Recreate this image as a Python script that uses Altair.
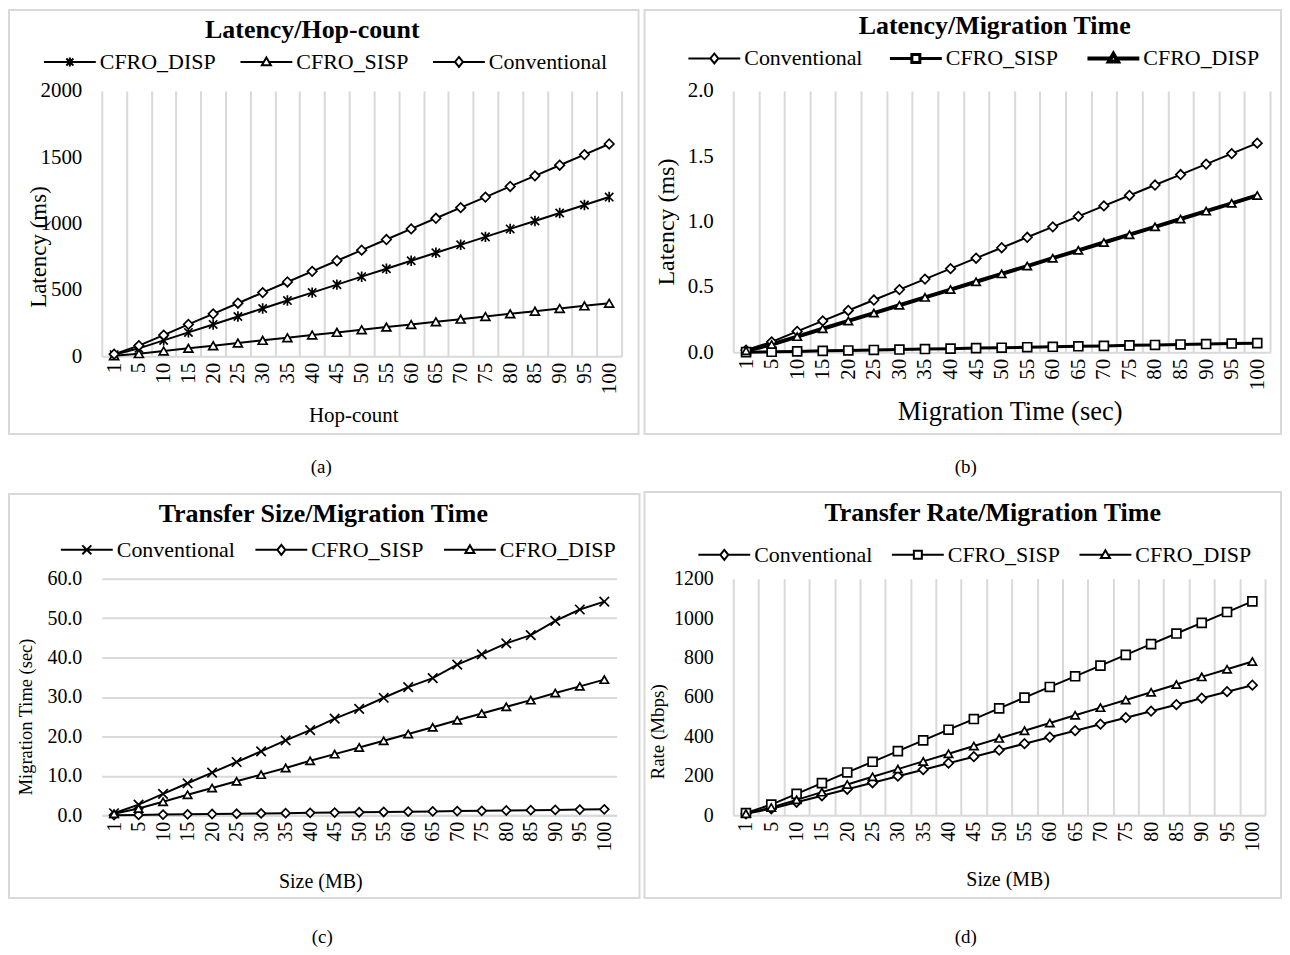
import altair as alt
import pandas as pd

cats = ["1", "5", "10", "15", "20", "25", "30", "35", "40", "45", "50",
        "55", "60", "65", "70", "75", "80", "85", "90", "95", "100"]

# (a) Latency / Hop-count
a_disp = [12, 60, 120, 180, 240, 300, 360, 420, 480, 540, 600, 660, 720, 780, 840, 900, 960, 1020, 1080, 1140, 1200]
a_sisp = [4, 20, 40, 60, 80, 100, 120, 140, 160, 180, 200, 220, 240, 260, 280, 300, 320, 340, 360, 380, 400]
a_conv = [16, 80, 160, 240, 320, 400, 480, 560, 640, 720, 800, 880, 960, 1040, 1120, 1200, 1280, 1360, 1440, 1520, 1600]

# (b) Latency / Migration Time
b_conv = [0.016, 0.08, 0.16, 0.24, 0.32, 0.40, 0.48, 0.56, 0.64, 0.72, 0.80, 0.88, 0.96, 1.04, 1.12, 1.20, 1.28, 1.36, 1.44, 1.52, 1.60]
b_sisp = [0.001, 0.004, 0.007, 0.011, 0.014, 0.018, 0.021, 0.025, 0.028, 0.032, 0.035, 0.039, 0.042, 0.046, 0.049, 0.053, 0.056, 0.060, 0.063, 0.067, 0.070]
b_disp = [0.012, 0.06, 0.12, 0.18, 0.24, 0.30, 0.36, 0.42, 0.48, 0.54, 0.60, 0.66, 0.72, 0.78, 0.84, 0.90, 0.96, 1.02, 1.08, 1.14, 1.20]

# (c) Transfer Size / Migration Time
c_conv = [0.5, 2.7, 5.4, 8.1, 10.8, 13.5, 16.2, 19.0, 21.6, 24.5, 27.0, 29.8, 32.5, 34.8, 38.2, 40.8, 43.6, 45.7, 49.3, 52.2, 54.2]
c_sisp = [0.01, 0.07, 0.15, 0.22, 0.30, 0.37, 0.45, 0.52, 0.60, 0.67, 0.75, 0.82, 0.90, 0.97, 1.05, 1.12, 1.20, 1.27, 1.35, 1.42, 1.50]
c_disp = [0.35, 1.7, 3.4, 5.2, 6.9, 8.6, 10.3, 12.0, 13.8, 15.5, 17.2, 18.9, 20.6, 22.3, 24.1, 25.8, 27.5, 29.2, 31.0, 32.7, 34.4]

# (d) Transfer Rate / Migration Time
d_conv = [7, 33, 66, 99, 132, 165, 198, 231, 264, 297, 330, 363, 396, 429, 462, 495, 528, 561, 594, 627, 660]
d_sisp = [11, 54, 108, 163, 217, 271, 325, 380, 434, 488, 542, 597, 651, 705, 759, 814, 868, 922, 976, 1031, 1085]
d_disp = [8, 39, 78, 117, 156, 195, 234, 273, 312, 351, 390, 429, 468, 507, 546, 585, 624, 663, 702, 741, 780]

FONT = "Liberation Serif"
GRID = "#d9d9d9"
BORDER = "#d9d9d9"

SHAPES = {
    "diamond": "diamond",
    "triangle": "triangle-up",
    "square": "square",
    "x": "M-1,-1L1,1M-1,1L1,-1",
    "star": "M-1,-1L1,1M-1,1L1,-1M0,-1.25L0,1.25",
}
LEGPATH = {
    "diamond": "M-26,0H-4M4,0H26M0,-5L4,0L0,5L-4,0Z",
    "triangle": "M-26,0H-2.4M2.4,0H26M0,-4.5L4.5,3.2L-4.5,3.2Z",
    "square": "M-26,0H-4M4,0H26M-4,-4H4V4H-4Z",
    "x": "M-26,0H26M-4.5,-4.5L4.5,4.5M-4.5,4.5L4.5,-4.5",
    "star": "M-26,0H26M-3.5,-3.5L3.5,3.5M-3.5,3.5L3.5,-3.5M0,-4.5V4.5",
}


def panel(cfg):
    series = cfg["series"]
    rows = []
    for s, vals in zip(series, cfg["values"]):
        for i, (c, v) in enumerate(zip(cats, vals)):
            rows.append({"cat": c, "val": v, "series": s, "idx": i})
    df = pd.DataFrame(rows)
    W, H = cfg["W"], cfg["H"]

    xaxis = alt.Axis(
        title=cfg["xtitle"], labelAngle=270, labelFontSize=cfg["xlab"],
        labelPadding=6, ticks=False, tickBand="extent",
        domainColor=GRID, domainWidth=2,
        grid=cfg["xgrid"], gridColor=GRID, gridWidth=2,
        titleFontSize=cfg["xt"][2], titleFontWeight="normal",
        titleX=cfg["xt"][0], titleY=cfg["xt"][1], titleBaseline="middle",
        titleAnchor="middle", titleAlign="center",
    )
    yaxis = alt.Axis(
        title=cfg["ytitle"], values=cfg["yticks"], format=cfg["yfmt"],
        domain=False, ticks=False, labelFontSize=cfg["ylab"], labelPadding=20,
        grid=cfg["ygrid"], gridColor=GRID, gridWidth=2,
        titleFontSize=cfg["yt"][2], titleFontWeight="normal", titleAngle=270,
        titleX=cfg["yt"][0], titleY=cfg["yt"][1], titleBaseline="middle",
        titleAlign="center",
    )
    X = alt.X("cat:O", sort=cats,
              scale=alt.Scale(type="band", paddingInner=0, paddingOuter=0),
              axis=xaxis)
    Y = alt.Y("val:Q", scale=alt.Scale(domain=[0, cfg["ymax"]], nice=False),
              axis=yaxis)

    base = alt.Chart(df)
    lines = base.mark_line(color="black").encode(
        x=X, y=Y, detail="series:N", order="idx:Q",
        strokeWidth=alt.StrokeWidth("series:N",
                                    scale=alt.Scale(domain=series, range=cfg["widths"]),
                                    legend=None),
    )
    points = base.mark_point(filled=True, fill="white", stroke="black",
                             strokeWidth=1.7, opacity=1).encode(
        x=X, y=Y,
        shape=alt.Shape("series:N",
                        scale=alt.Scale(domain=series,
                                        range=[SHAPES[s] for s in cfg["shapes"]]),
                        legend=None),
        size=alt.Size("series:N",
                      scale=alt.Scale(domain=series, range=cfg["psize"]),
                      legend=None),
    )
    leg = alt.Legend(
        orient="none", legendX=cfg["leg"][0], legendY=cfg["leg"][1],
        direction="horizontal", title=None, labelFont=FONT,
        labelFontSize=22, labelColor="black", symbolSize=4,
        symbolStrokeColor="black", symbolFillColor="white",
        symbolOpacity=1, labelOffset=19, columnPadding=cfg["colpad"],
        labelLimit=0,
    )
    legend_layer = alt.Chart(
        alt.Data(values=[{"key": s} for s in series])
    ).mark_point(opacity=0, size=4, color="black", filled=False).encode(
        shape=alt.Shape("key:N",
                        scale=alt.Scale(domain=series,
                                        range=[LEGPATH[s] for s in cfg["shapes"]]),
                        legend=leg),
        strokeWidth=alt.StrokeWidth("key:N",
                                    scale=alt.Scale(domain=series, range=cfg["widths"]),
                                    legend=leg),
    )
    bx = cfg["box"]
    border = alt.Chart(alt.Data(values=[{"b": 1}])).mark_rect(
        fillOpacity=0, stroke=BORDER, strokeWidth=2
    ).encode(x=alt.value(bx[0]), x2=alt.value(bx[1]),
             y=alt.value(bx[2]), y2=alt.value(bx[3]))
    title = alt.Chart(alt.Data(values=[{"t": cfg["title"]}])).mark_text(
        font=FONT, fontSize=26, fontWeight="bold", color="black",
        align="center", baseline="middle"
    ).encode(text="t:N", x=alt.value(cfg["tpos"][0]), y=alt.value(cfg["tpos"][1]))
    caption = alt.Chart(alt.Data(values=[{"t": cfg["caption"]}])).mark_text(
        font=FONT, fontSize=19, color="black", align="center", baseline="middle"
    ).encode(text="t:N", x=alt.value(cfg["cpos"][0]), y=alt.value(cfg["cpos"][1]))

    return alt.layer(border, lines, points, legend_layer, title, caption).resolve_scale(
        shape="independent", strokeWidth="independent"
    ).properties(width=W, height=H)


pa = panel(dict(
    series=["CFRO_DISP", "CFRO_SISP", "Conventional"],
    values=[a_disp, a_sisp, a_conv], shapes=["star", "triangle", "diamond"],
    widths=[2, 2, 2], psize=[70, 90, 110], W=521, H=266, ymax=2000,
    yticks=[0, 500, 1000, 1500, 2000], yfmt="d",
    xtitle="Hop-count", ytitle="Latency (ms)", xlab=21, ylab=21,
    xt=(252, 59, 21), yt=(-63, 156, 23), xgrid=True, ygrid=False,
    box=(-93, 538, -81, 344), title="Latency/Hop-count", tpos=(211, -61),
    leg=(-43, -40), colpad=20, caption="(a)", cpos=(220, 377),
))
pb = panel(dict(
    series=["Conventional", "CFRO_SISP", "CFRO_DISP"],
    values=[b_conv, b_sisp, b_disp], shapes=["diamond", "square", "triangle"],
    widths=[2, 4, 4], psize=[100, 110, 110], W=538, H=262, ymax=2.0,
    yticks=[0, 0.5, 1.0, 1.5, 2.0], yfmt=".1f",
    xtitle="Migration Time (sec)", ytitle="Latency (ms)", xlab=21, ylab=21,
    xt=(277, 59, 26.5), yt=(-67, 131, 24), xgrid=True, ygrid=False,
    box=(-89, 549, -81, 344), title="Latency/Migration Time", tpos=(262, -65),
    leg=(-30, -44), colpad=21, caption="(b)", cpos=(233, 377),
))
pc = panel(dict(
    series=["Conventional", "CFRO_SISP", "CFRO_DISP"],
    values=[c_conv, c_sisp, c_disp], shapes=["x", "diamond", "triangle"],
    widths=[2, 2, 2], psize=[80, 100, 110], W=516, H=237, ymax=60,
    yticks=[0, 10, 20, 30, 40, 50, 60], yfmt=".1f",
    xtitle="Size (MB)", ytitle="Migration Time (sec)", xlab=20, ylab=20,
    xt=(219, 66, 20), yt=(-76, 138, 18.5), xgrid=False, ygrid=True,
    box=(-93, 539, -85, 320), title="Transfer Size/Migration Time", tpos=(222, -65),
    leg=(-26, -40), colpad=16, caption="(c)", cpos=(221, 359),
))
pd_ = panel(dict(
    series=["Conventional", "CFRO_SISP", "CFRO_DISP"],
    values=[d_conv, d_sisp, d_disp], shapes=["diamond", "square", "triangle"],
    widths=[2, 2, 2], psize=[110, 150, 120], W=533, H=237, ymax=1200,
    yticks=[0, 200, 400, 600, 800, 1000, 1200], yfmt="d",
    xtitle="Size (MB)", ytitle="Rate (Mbps)", xlab=20, ylab=20,
    xt=(275, 64, 20), yt=(-76, 153, 19), xgrid=True, ygrid=False,
    box=(-89, 549, -87, 320), title="Transfer Rate/Migration Time", tpos=(260, -66),
    leg=(-20, -35), colpad=15, caption="(d)", cpos=(233, 359),
))

chart = alt.concat(
    pa, pb, pc, pd_, columns=2, spacing={"row": 14, "column": 3}, align="each",
    padding={"left": 0, "top": 0, "right": 0, "bottom": 0},
).configure_view(stroke=None).configure_axis(
    labelFont=FONT, titleFont=FONT, labelColor="black", titleColor="black",
).configure_legend(labelFont=FONT)

chart.save("out.html", embed_options={"renderer": "svg", "actions": False})
